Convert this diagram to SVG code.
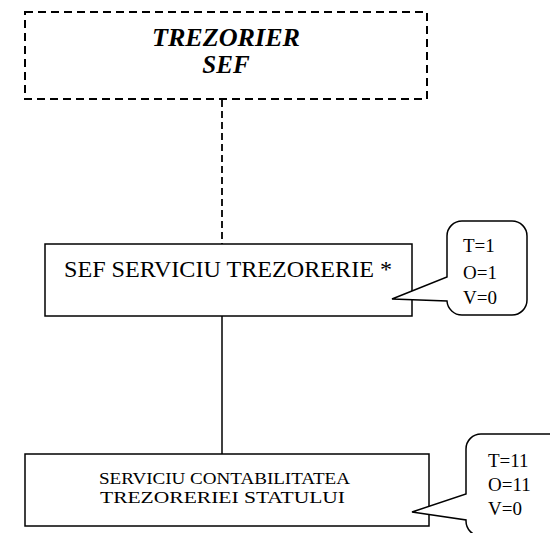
<svg xmlns="http://www.w3.org/2000/svg" width="550" height="533" viewBox="0 0 550 533">
<style>
.box{fill:#fff;stroke:#000;stroke-width:1.5}
.dash{fill:none;stroke:#000;stroke-width:2;stroke-dasharray:8 5}
.line{fill:none;stroke:#000;stroke-width:1.5}
.call{fill:#fff;stroke:#000;stroke-width:1.5;stroke-linejoin:miter}
text{font-family:"Liberation Serif","Times New Roman","DejaVu Serif",serif;fill:#000}
.bi{font-weight:bold;font-style:italic;font-size:25px}
.t1{font-size:23px}
.t2{font-size:17px}
.c{font-size:19px}
</style>
<rect width="550" height="533" fill="#fff"/>
<g id="connectors">
<line class="dash" x1="222" y1="100" x2="222" y2="244" style="stroke-dasharray:7 4;stroke-width:1.8"/>
<line class="line" x1="222" y1="316" x2="222" y2="454"/>
</g>
<g id="trezorier-sef">
<rect class="dash" x="25" y="12" width="402" height="87"/>
<text class="bi" x="226" y="46" text-anchor="middle" textLength="148" lengthAdjust="spacingAndGlyphs">TREZORIER</text>
<text class="bi" x="226" y="73" text-anchor="middle">SEF</text>
</g>
<g id="sef-serviciu">
<rect class="box" x="45" y="244" width="367" height="72"/>
<text class="t1" x="228" y="277" text-anchor="middle" textLength="328" lengthAdjust="spacingAndGlyphs">SEF SERVICIU TREZORERIE *</text>
</g>
<g id="callout-1">
<path class="call" d="M462 221 H512 A15 15 0 0 1 527 236 V300 A15 15 0 0 1 512 315 H462 A15 15 0 0 1 447 301 L392 299 L447 277 V236 A15 15 0 0 1 462 221 Z"/>
<text class="c" x="463" y="252">T=1</text>
<text class="c" x="463" y="279">O=1</text>
<text class="c" x="463" y="304">V=0</text>
</g>
<g id="serviciu-contabilitate">
<rect class="box" x="25" y="454" width="404" height="72"/>
<text class="t2" x="224.5" y="484" text-anchor="middle" textLength="251" lengthAdjust="spacingAndGlyphs">SERVICIU CONTABILITATEA</text>
<text class="t2" x="222.5" y="503" text-anchor="middle" textLength="245" lengthAdjust="spacingAndGlyphs">TREZORERIEI STATULUI</text>
</g>
<g id="callout-2">
<path class="call" d="M575 434 H481 A15 15 0 0 0 466 449 V494 L412 512 L466 520 V521 A15 15 0 0 0 481 536 H575"/>
<text class="c" x="488" y="467">T=11</text>
<text class="c" x="488" y="491">O=11</text>
<text class="c" x="488" y="515">V=0</text>
</g>
</svg>
